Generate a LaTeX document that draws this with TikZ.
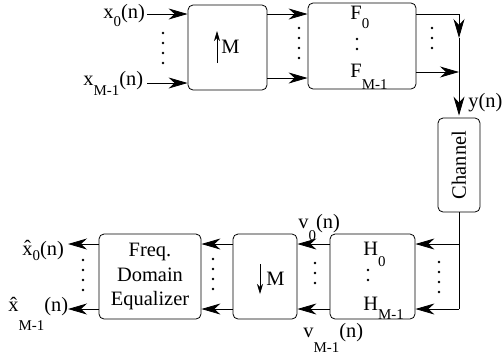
\documentclass[tikz,border=0pt]{standalone}
\usepackage{fontspec}
\setmainfont{Liberation Serif}
\usetikzlibrary{arrows.meta}
\newcommand{\lsub}[2][-10bp]{\raisebox{#1}{\fontsize{15}{16}\selectfont #2}}

\begin{document}
\begin{tikzpicture}[x=1bp, y=-1bp, line width=0.8bp,
        >={Stealth[length=19bp,width=11bp,inset=6bp]},
        font=\fontsize{20.5}{25}\selectfont,
        block/.style={draw, rounded corners=5bp, inner sep=0pt, align=center},
        lbl/.style={inner sep=0pt, anchor=base west},
        small arrow/.style={-{Stealth[length=10bp,width=6bp,inset=3bp]}},
        dotcol/.style={line width=2.6bp, line cap=round, dash pattern=on 0pt off 10bp}]
    \useasboundingbox (0,0) rectangle (503,358);

    % Bloki
    \node[block, minimum width=79bp, minimum height=85bp] (up) at (227.5,47.5) {};
    \node[block, minimum width=108bp, minimum height=86bp] (F) at (362,46) {};
    \node[block, minimum width=42bp, minimum height=94bp] (chan) at (459,165) {\rotatebox{90}{Channel}};
    \node[block, minimum width=85bp, minimum height=85bp] (H) at (372.5,276.5) {};
    \node[block, minimum width=64bp, minimum height=85bp] (down) at (265,276.5) {};
    \node[block, minimum width=102bp, minimum height=85bp] (eq) at (150,276.5) {Freq.\\Domain\\Equalizer};

    % Wiersze sygnalow
    \coordinate (r0) at (0,14);
    \coordinate (r1) at (0,83);
    \coordinate (r2) at (0,78);
    \coordinate (r3) at (0,72);
    \coordinate (b0) at (0,244);
    \coordinate (b1) at (0,309);
    \coordinate (in0) at (147,14);
    \coordinate (in1) at (147,83);
    \coordinate (ya) at (459,38);
    \coordinate (out0) at (68,244);
    \coordinate (out1) at (68,309);

    % Gora / dol M
    \node[lbl] (Mup) at (221,53) {M};
    \coordinate (upa) at (217,63);
    \coordinate (upb) at (217,31);
    \draw[small arrow] (upa) -- (upb);
    \node[lbl] (Mdown) at (266,285) {M};
    \coordinate (dna) at (260,264);
    \coordinate (dnb) at (260,294);
    \draw[small arrow] (dna) -- (dnb);

    % Polaczenia
    \draw[->] (in0) -- (in0 -| up.west);
    \draw[->] (in1) -- (in1 -| up.west);
    \draw[->] (up.east |- r0) -- (F.west |- r0);
    \draw[->] (up.east |- r2) -- (F.west |- r2);
    \draw[->] (F.east |- r0) -| (ya);
    \draw (ya) -- (ya |- r3);
    \draw[->] (F.east |- r3) -- (ya |- r3);
    \draw[->, shorten >=2bp] (ya |- r3) -- (chan.north);
    \draw (chan.south) -- (chan.south |- b1);
    \draw[->] (chan.south |- b0) -- (H.east |- b0);
    \draw[->] (chan.south |- b1) -- (H.east |- b1);
    \draw[->] (H.west |- b0) -- (down.east |- b0);
    \draw[->] (H.west |- b1) -- (down.east |- b1);
    \draw[->] (down.west |- b0) -- (eq.east |- b0);
    \draw[->] (down.west |- b1) -- (eq.east |- b1);
    \draw[->] (eq.west |- b0) -- (out0);
    \draw[->] (eq.west |- b1) -- (out1);

    % Kropki
    \draw[dotcol] (163,33) -- (163,72);
    \draw[dotcol] (299,28) -- (299,66);
    \draw[dotcol] (432,28) -- (432,54);
    \draw[dotcol] (357,39) -- (357,50);
    \draw[dotcol] (439,262) -- (439,298);
    \draw[dotcol] (315,263) -- (315,293);
    \draw[dotcol] (368,270) -- (368,283);
    \draw[dotcol] (213,259) -- (213,298);
    \draw[dotcol] (83,260) -- (83,298);

    % Etykiety
    \node[lbl] (lx0) at (103,18) {x\lsub[-8bp]{0}(n)};
    \node[lbl] (lx1) at (83,85) {x\lsub{M-1}(n)};
    \node[lbl] (lF0) at (350,19) {F\lsub[-9bp]{0}};
    \node[lbl] (lF1) at (350,77) {F\lsub[-12bp]{M-1}};
    \node[lbl] (ly) at (468,107) {y(n)};
    \node[lbl] (lH0) at (363,255) {H\lsub[-11bp]{0}};
    \node[lbl] (lH1) at (363,310) {H\lsub[-9bp]{M-1}};
    \node[lbl] (lv0) at (298,228) {v\lsub[-12bp]{0}(n)};
    \node[lbl] (lv1) at (303,337) {v\lsub[-15bp]{M-1}(n)};
    \node[lbl] (lxh0) at (22,255) {\^x\lsub[-5bp]{0}(n)};
    \node[lbl] (lxh1) at (8,311) {\^x\lsub[-19bp]{M-1}(n)};
\end{tikzpicture}
\end{document}
